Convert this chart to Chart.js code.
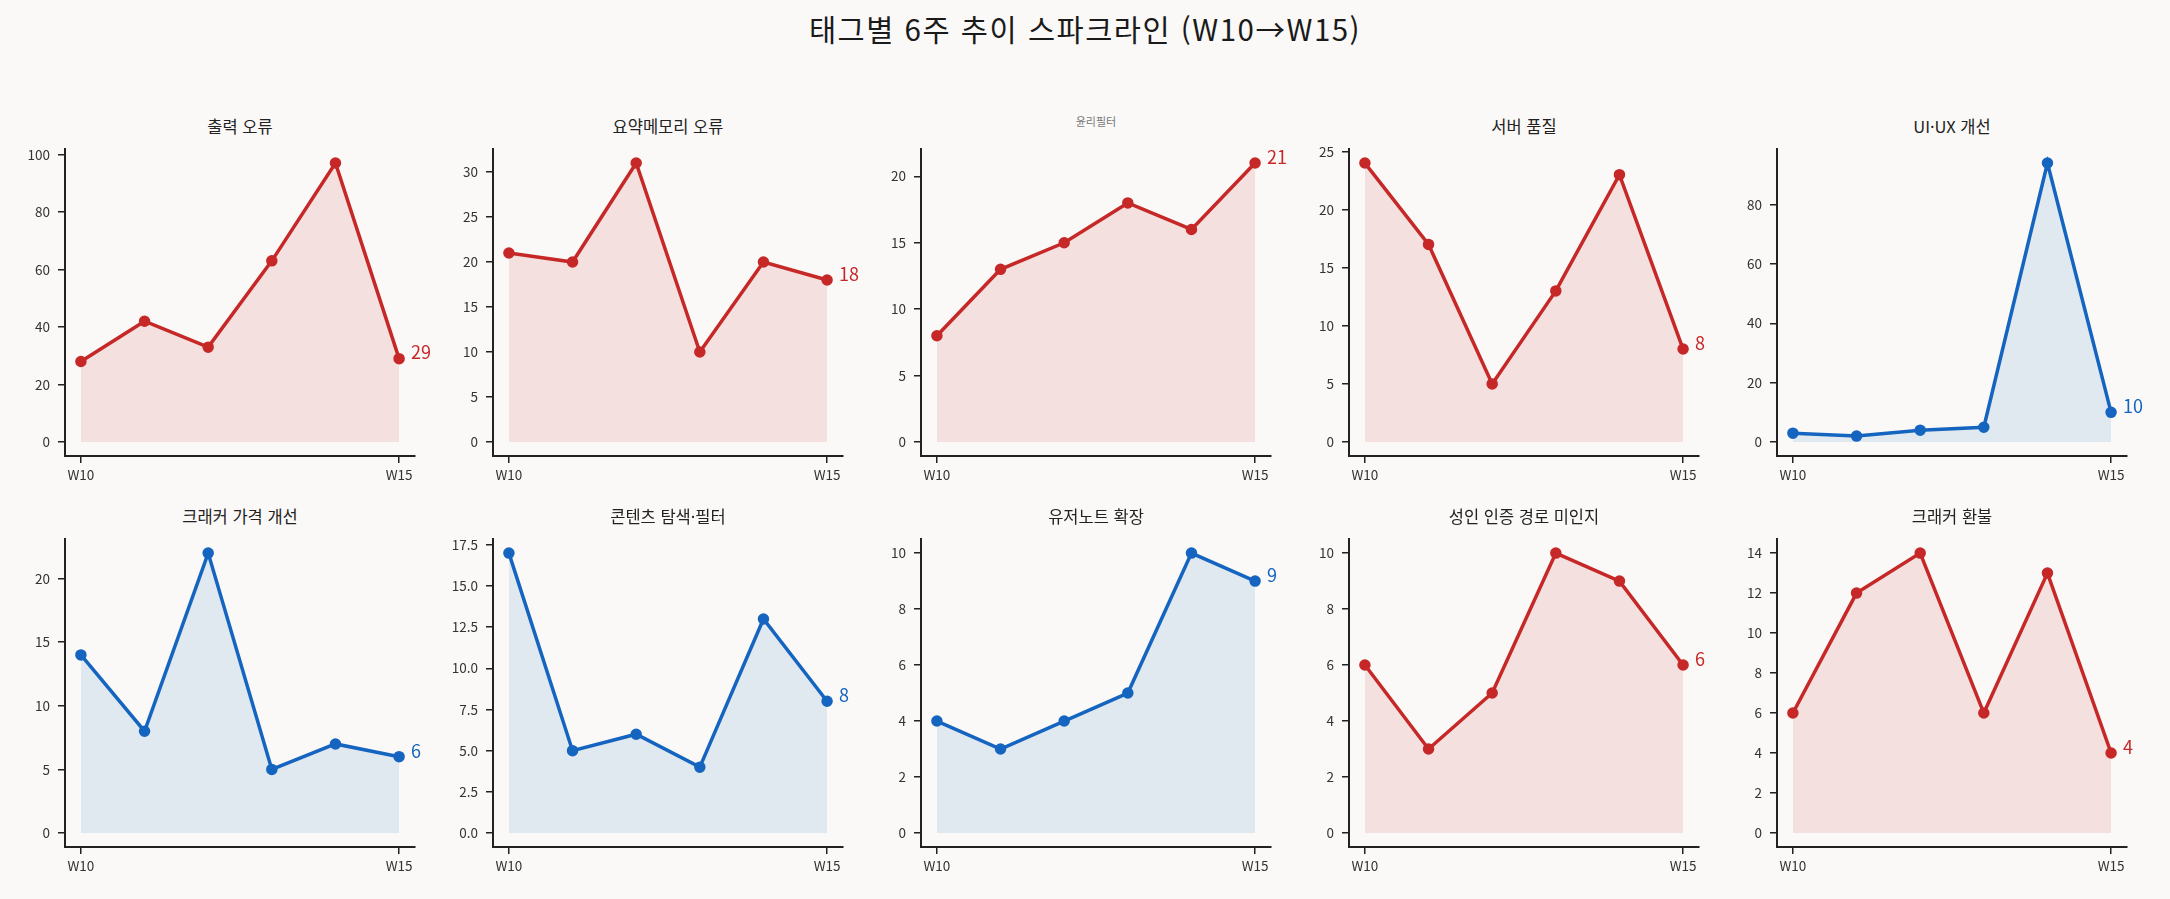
<!DOCTYPE html>
<html lang="ko">
<head>
<meta charset="utf-8">
<script src="https://cdn.jsdelivr.net/npm/chart.js@4.4.1/dist/chart.umd.min.js"></script>
<style>
    html, body {
        margin: 0;
        padding: 0;
        background: #faf9f7;
        width: 2170px;
        height: 899px;
        overflow: hidden;
        font-family: "Noto Sans CJK KR", "Noto Sans", sans-serif;
    }
    .main-title {
        position: absolute;
        left: 0;
        width: 2170px;
        top: 8px;
        text-align: center;
        font-size: 29.5px;
        letter-spacing: 1.5px;
        color: #1a1a1a;
        line-height: 40px;
    }
    .panel-title {
        position: absolute;
        width: 350px;
        text-align: center;
        font-size: 16.5px;
        color: #222;
        line-height: 20px;
    }
    .panel-title.muted {
        font-size: 11px;
        color: #777;
    }
    canvas {
        position: absolute;
    }
</style>
</head>
<body>
<div class="main-title">태그별 6주 추이 스파크라인 (W10→W15)</div>

<script>
// weeks on the x axis
const weeks = ['W10', 'W11', 'W12', 'W13', 'W14', 'W15'];

// panel titles, left to right, top to bottom
const tags = [
    '출력 오류', '요약메모리 오류', '윤리필터', '서버 품질', 'UI·UX 개선',
    '크래커 가격 개선', '콘텐츠 탐색·필터', '유저노트 확장', '성인 인증 경로 미인지', '크래커 환불'
];

// weekly counts per tag
const outputErr   = [28, 42, 33, 63, 97, 29];
const summaryErr  = [21, 20, 31, 10, 20, 18];
const ethicFilter = [8, 13, 15, 18, 16, 21];
const serverQual  = [24, 17, 5, 13, 23, 8];
const uiux        = [3, 2, 4, 5, 94, 10];
const crackerPrice = [14, 8, 22, 5, 7, 6];
const contentSearch = [17, 5, 6, 4, 13, 8];
const userNote    = [4, 3, 4, 5, 10, 9];
const adultAuth   = [6, 3, 5, 10, 9, 6];
const crackerRefund = [6, 12, 14, 6, 13, 4];

const series = [outputErr, summaryErr, ethicFilter, serverQual, uiux,
                crackerPrice, contentSearch, userNote, adultAuth, crackerRefund];

// trend direction: 'up' = red, 'down' = blue
const trend = ['up', 'up', 'up', 'up', 'down', 'down', 'down', 'down', 'up', 'up'];

// y tick values per panel
const yTicks = [
    [0, 20, 40, 60, 80, 100],
    [0, 5, 10, 15, 20, 25, 30],
    [0, 5, 10, 15, 20],
    [0, 5, 10, 15, 20, 25],
    [0, 20, 40, 60, 80],
    [0, 5, 10, 15, 20],
    [0, 2.5, 5, 7.5, 10, 12.5, 15, 17.5],
    [0, 2, 4, 6, 8, 10],
    [0, 2, 4, 6, 8, 10],
    [0, 2, 4, 6, 8, 10, 12, 14]
];

const COLORS = {
    up:   { line: '#c62828', fill: 'rgba(198, 40, 40, 0.11)' },
    down: { line: '#1565c0', fill: 'rgba(21, 101, 192, 0.11)' }
};

const colLeft = [65, 493, 921, 1349, 1777];
const rowTop = [145, 535];
const rowBottom = [456, 847];
const axesWidth = 350;
const padLeft = 60, padRight = 45, padTop = 12, padBottom = 36;

// label with the last value next to the final point
const endLabel = {
    id: 'endLabel',
    afterDatasetsDraw(chart) {
        const meta = chart.getDatasetMeta(0);
        const last = meta.data[meta.data.length - 1];
        const ds = chart.data.datasets[0];
        const value = ds.data[ds.data.length - 1].y;
        const ctx = chart.ctx;
        ctx.save();
        ctx.fillStyle = ds.borderColor;
        ctx.font = '18px "Noto Sans CJK KR", sans-serif';
        ctx.textAlign = 'left';
        ctx.textBaseline = 'middle';
        ctx.fillText(String(value), last.x + 12, last.y - 6);
        ctx.restore();
    }
};

const tickFont = { family: '"Noto Sans CJK KR", sans-serif', size: 13.5 };

series.forEach((values, i) => {
    const col = i % 5;
    const row = Math.floor(i / 5);
    const top = rowTop[row];
    const height = rowBottom[row] - top;

    const title = document.createElement('div');
    title.className = 'panel-title' + (i === 2 ? ' muted' : '');
    title.textContent = tags[i];
    title.style.left = colLeft[col] + 'px';
    title.style.top = (top - (i === 2 ? 34 : 29)) + 'px';
    document.body.appendChild(title);

    const canvas = document.createElement('canvas');
    const w = padLeft + axesWidth + padRight;
    const h = padTop + height + padBottom;
    canvas.style.left = (colLeft[col] - padLeft) + 'px';
    canvas.style.top = (top - padTop) + 'px';
    canvas.style.width = w + 'px';
    canvas.style.height = h + 'px';
    canvas.width = w;
    canvas.height = h;
    document.body.appendChild(canvas);

    const maxVal = Math.max(...values);
    const color = COLORS[trend[i]];
    const ticks = yTicks[i];
    const decimals = ticks.some(t => t % 1 !== 0) ? 1 : 0;

    new Chart(canvas.getContext('2d'), {
        type: 'line',
        data: {
            datasets: [{
                data: values.map((v, k) => ({ x: k, y: v })),
                borderColor: color.line,
                backgroundColor: color.fill,
                pointBackgroundColor: color.line,
                pointBorderColor: color.line,
                pointRadius: 4,
                borderWidth: 3.5,
                tension: 0,
                fill: 'origin'
            }]
        },
        options: {
            responsive: false,
            animation: false,
            devicePixelRatio: 1,
            layout: { padding: { left: 0, right: padRight, top: padTop, bottom: 0 } },
            plugins: {
                legend: { display: false },
                tooltip: { enabled: false }
            },
            scales: {
                x: {
                    type: 'linear',
                    min: -0.25,
                    max: 5.25,
                    afterBuildTicks: axis => {
                        axis.ticks = [{ value: 0 }, { value: weeks.length - 1 }];
                    },
                    afterFit: axis => { axis.height = padBottom; },
                    ticks: {
                        callback: value => weeks[value],
                        color: '#333',
                        font: tickFont,
                        padding: 4,
                        maxRotation: 0
                    },
                    grid: {
                        display: true,
                        drawOnChartArea: false,
                        drawTicks: true,
                        tickLength: 7,
                        color: '#222',
                        lineWidth: 1.5
                    },
                    border: { display: true, color: '#222', width: 2 }
                },
                y: {
                    min: -0.05 * maxVal,
                    max: 1.05 * maxVal,
                    afterBuildTicks: axis => {
                        axis.ticks = ticks.map(t => ({ value: t }));
                    },
                    afterFit: axis => { axis.width = padLeft; },
                    ticks: {
                        callback: value => value.toFixed(decimals),
                        color: '#333',
                        font: tickFont,
                        padding: 8
                    },
                    grid: {
                        display: true,
                        drawOnChartArea: false,
                        drawTicks: true,
                        tickLength: 7,
                        color: '#222',
                        lineWidth: 1.5
                    },
                    border: { display: true, color: '#222', width: 2 }
                }
            }
        },
        plugins: [endLabel]
    });
});
</script>
</body>
</html>
